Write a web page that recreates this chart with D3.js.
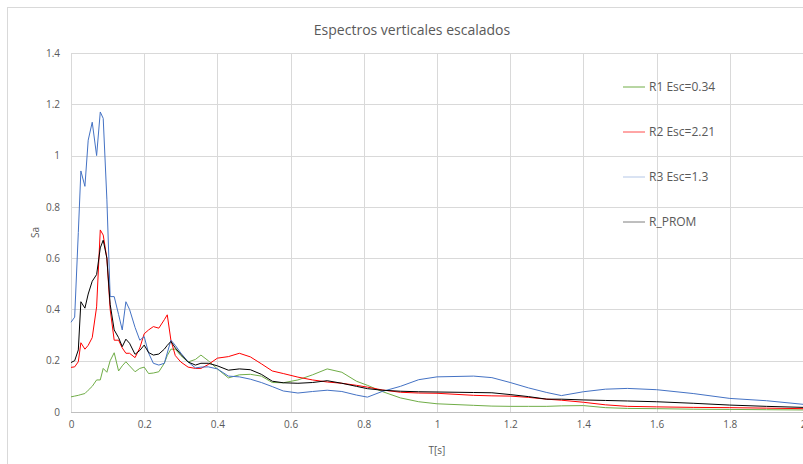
<!DOCTYPE html>
<html>
<head>
<meta charset="utf-8">
<script src="https://cdn.jsdelivr.net/npm/d3@7"></script>
<style>
  body { margin: 0; background: #fff; }
  text { font-family: "Open Sans", "Liberation Sans", sans-serif; fill: #595959; }
</style>
</head>
<body>
<svg id="chart"></svg>
<script>
// Periodos T[s]
const periods = [0, 0.01, 0.02, 0.027, 0.038, 0.047, 0.058, 0.07, 0.08, 0.088, 0.098, 0.107, 0.118, 0.13, 0.14, 0.15, 0.16, 0.175, 0.188, 0.2,
  0.212, 0.225, 0.24, 0.255, 0.263, 0.273, 0.285, 0.3, 0.32, 0.34, 0.355, 0.375, 0.4, 0.43, 0.46, 0.49, 0.52, 0.55, 0.58, 0.62,
  0.66, 0.7, 0.74, 0.78, 0.81, 0.85, 0.9, 0.95, 1.0, 1.1, 1.15, 1.2, 1.25, 1.3, 1.34, 1.4, 1.46, 1.52, 1.6, 1.7, 1.8, 1.9, 2.0];

const r1 = [0.059, 0.062, 0.065, 0.068, 0.072, 0.085, 0.1, 0.125, 0.125, 0.17, 0.155, 0.2, 0.231, 0.16, 0.18, 0.196, 0.18, 0.157, 0.17, 0.175,
  0.15, 0.152, 0.157, 0.19, 0.22, 0.245, 0.245, 0.22, 0.195, 0.205, 0.222, 0.2, 0.168, 0.133, 0.145, 0.147, 0.14, 0.115, 0.114, 0.125,
  0.145, 0.168, 0.155, 0.12, 0.104, 0.08, 0.055, 0.04, 0.032, 0.026, 0.023, 0.022, 0.022, 0.022, 0.024, 0.025, 0.017, 0.014, 0.013, 0.011, 0.01, 0.009, 0.008];

const r2 = [0.174, 0.176, 0.196, 0.27, 0.245, 0.26, 0.29, 0.41, 0.71, 0.69, 0.6, 0.4, 0.28, 0.28, 0.25, 0.229, 0.229, 0.212, 0.25, 0.305,
  0.32, 0.333, 0.327, 0.36, 0.379, 0.28, 0.22, 0.195, 0.175, 0.17, 0.17, 0.185, 0.21, 0.216, 0.229, 0.215, 0.188, 0.16, 0.15, 0.136,
  0.125, 0.117, 0.112, 0.104, 0.097, 0.086, 0.077, 0.074, 0.073, 0.065, 0.063, 0.062, 0.057, 0.05, 0.046, 0.038, 0.028, 0.022, 0.02, 0.018, 0.017, 0.015, 0.013];

const r3 = [0.35, 0.37, 0.70, 0.94, 0.88, 1.06, 1.13, 1.0, 1.17, 1.145, 0.83, 0.45, 0.45, 0.38, 0.32, 0.43, 0.40, 0.33, 0.28, 0.294,
  0.23, 0.19, 0.183, 0.19, 0.23, 0.28, 0.26, 0.23, 0.195, 0.172, 0.175, 0.176, 0.168, 0.14, 0.137, 0.128, 0.115, 0.099, 0.082, 0.074,
  0.08, 0.085, 0.08, 0.066, 0.058, 0.08, 0.1, 0.126, 0.137, 0.14, 0.134, 0.115, 0.094, 0.076, 0.064, 0.079, 0.089, 0.092, 0.087, 0.072, 0.053, 0.044, 0.03];

const rProm = [0.193, 0.2, 0.242, 0.43, 0.405, 0.46, 0.51, 0.536, 0.64, 0.67, 0.6, 0.42, 0.32, 0.29, 0.255, 0.284, 0.268, 0.225, 0.24, 0.261,
  0.232, 0.222, 0.226, 0.245, 0.26, 0.275, 0.25, 0.225, 0.195, 0.183, 0.19, 0.19, 0.18, 0.163, 0.168, 0.165, 0.147, 0.12, 0.114, 0.112,
  0.115, 0.122, 0.112, 0.1, 0.091, 0.085, 0.081, 0.079, 0.078, 0.076, 0.075, 0.068, 0.06, 0.05, 0.05, 0.047, 0.045, 0.043, 0.04, 0.034, 0.027, 0.022, 0.018];

const seriesNames = ["R1 Esc=0.34", "R2 Esc=2.21", "R3 Esc=1.3", "R_PROM"];
const seriesValues = [r1, r2, r3, rProm];
const seriesColors = ["#70ad47", "#ff0000", "#4472c4", "#000000"];
const legendColors = ["#70ad47", "#ff4d4d", "#b4c7e7", "#7f7f7f"];

const xTicks = [0, 0.2, 0.4, 0.6, 0.8, 1, 1.2, 1.4, 1.6, 1.8, 2];
const yTicks = [0, 0.2, 0.4, 0.6, 0.8, 1, 1.2, 1.4];

const width = 803;
const height = 464;
const margin = { top: 53, right: 0, bottom: 52, left: 71 };

const svg = d3.select("#chart")
    .attr("width", width)
    .attr("height", height);

// borde del area del grafico
svg.append("rect")
    .attr("x", 7.5).attr("y", 7.5)
    .attr("width", 820).attr("height", 480)
    .attr("fill", "none")
    .attr("stroke", "#d9d9d9");

const x = d3.scaleLinear().domain([0, 2]).range([margin.left, width - margin.right]);
const y = d3.scaleLinear().domain([0, 1.4]).range([height - margin.bottom, margin.top]);

// grid
svg.append("g")
    .selectAll("line")
    .data(xTicks)
    .enter().append("line")
    .attr("x1", d => Math.round(x(d)) + 0.5).attr("x2", d => Math.round(x(d)) + 0.5)
    .attr("y1", y(1.4)).attr("y2", y(0))
    .attr("stroke", "#d9d9d9");

svg.append("g")
    .selectAll("line")
    .data(yTicks.filter(d => d > 0))
    .enter().append("line")
    .attr("x1", x(0)).attr("x2", x(2))
    .attr("y1", d => Math.round(y(d)) + 0.5).attr("y2", d => Math.round(y(d)) + 0.5)
    .attr("stroke", "#d9d9d9");

svg.append("line")
    .attr("x1", x(0)).attr("x2", x(2))
    .attr("y1", Math.round(y(0)) + 0.5).attr("y2", Math.round(y(0)) + 0.5)
    .attr("stroke", "#bfbfbf");

// ejes
const xAxis = d3.axisBottom(x).tickValues(xTicks).tickSize(0).tickPadding(9).tickFormat(d3.format("~g"));
svg.append("g")
    .attr("transform", "translate(0," + y(0) + ")")
    .call(xAxis)
    .call(g => g.select(".domain").remove())
    .selectAll("text")
    .style("font-size", "10px")
    .attr("fill", "#595959");

const yAxis = d3.axisLeft(y).tickValues(yTicks).tickSize(0).tickPadding(11).tickFormat(d3.format("~g"));
svg.append("g")
    .attr("transform", "translate(" + x(0) + ",0)")
    .call(yAxis)
    .call(g => g.select(".domain").remove())
    .selectAll("text")
    .style("font-size", "10px")
    .attr("fill", "#595959");

// series
const line = d3.line()
    .x((d, i) => x(periods[i]))
    .y(d => y(d));

seriesValues.forEach((vals, i) => {
    svg.append("path")
        .datum(vals)
        .attr("d", line)
        .attr("fill", "none")
        .attr("stroke", seriesColors[i])
        .attr("stroke-width", 1)
        .attr("stroke-linejoin", "round");
});

// titulo
svg.append("text")
    .attr("x", 412)
    .attr("y", 35)
    .style("text-anchor", "middle")
    .style("font-size", "14px")
    .text("Espectros verticales escalados");

svg.append("text")
    .attr("x", x(1))
    .attr("y", 454)
    .style("text-anchor", "middle")
    .style("font-size", "10px")
    .text("T[s]");

svg.append("text")
    .attr("transform", "translate(39," + y(0.7) + ") rotate(-90)")
    .style("text-anchor", "middle")
    .style("font-size", "10px")
    .text("Sa");

// leyenda
const legend = svg.append("g")
    .selectAll("g")
    .data(seriesNames)
    .enter().append("g")
    .attr("transform", (d, i) => "translate(623," + (87 + i * 45) + ")");

legend.append("line")
    .attr("x1", 0).attr("x2", 22)
    .attr("stroke", (d, i) => legendColors[i])
    .attr("stroke-width", 1);

legend.append("text")
    .attr("x", 26)
    .attr("dy", "0.35em")
    .style("font-size", "12px")
    .text(d => d);
</script>
</body>
</html>
